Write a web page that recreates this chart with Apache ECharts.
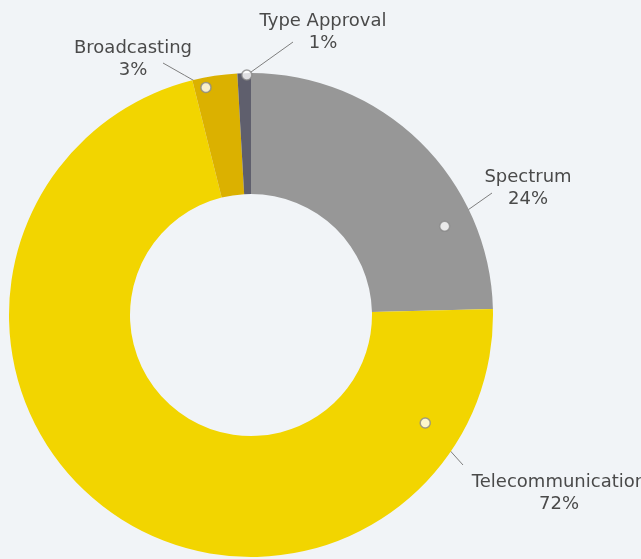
<!DOCTYPE html>
<html>
<head>
<meta charset="utf-8">
<script src="https://cdn.jsdelivr.net/npm/echarts@6/dist/echarts.min.js"></script>
<style>
html,body{margin:0;padding:0;background:#f1f4f7;}
#c{width:641px;height:559px;}
</style>
</head>
<body>
<div id="c"></div>
<script>
// ---- data ----
var categories = ['Spectrum', 'Telecommunication', 'Broadcasting', 'Type Approval'];
var values = [24.6, 71.5, 3.0, 0.9];
var shownPercent = ['24%', '72%', '3%', '1%'];
var colors = ['#979797', '#f2d500', '#dbb100', '#5f5f6d'];

// ---- layout (styling only) ----
var CX = 251, CY = 315, R_IN = 121, R_OUT = 242;
// marker dot placement: [radius px, clockwise angle deg from top]
var dotPlace = [[213, 65.4], [205, 121.8], [232, 348.8], [240, 359.0]];
// label text centre and leader-line end
var labelCenter = [[528, 188], [559, 493], [133, 59], [323, 32]];
var lineEnd = [[492, 193], [463, 465], [163, 63], [293, 42]];

function polarPx(r, a) {
  var rad = a * Math.PI / 180;
  return [CX + r * Math.sin(rad), CY - r * Math.cos(rad)];
}

var chart = echarts.init(document.getElementById('c'), null, {renderer: 'canvas'});
var option = {
  backgroundColor: '#f1f4f7',
  animation: false,
  polar: {center: [CX, CY], radius: R_OUT},
  angleAxis: {type: 'value', min: 0, max: 360, startAngle: 90, clockwise: true,
    show: false, axisLine: {show: false}, axisLabel: {show: false}, splitLine: {show: false}, axisTick: {show: false}},
  radiusAxis: {type: 'value', min: 0, max: R_OUT, show: false,
    axisLine: {show: false}, axisLabel: {show: false}, splitLine: {show: false}, axisTick: {show: false}},
  series: [
    {
      type: 'pie',
      center: [CX, CY],
      radius: [R_IN, R_OUT],
      startAngle: 90,
      clockwise: true,
      avoidLabelOverlap: false,
      emphasis: {disabled: true},
      data: categories.map(function (c, i) {
        return {name: c, value: values[i], itemStyle: {color: colors[i]}};
      }),
      label: {
        show: true,
        position: 'outside',
        formatter: function (p) { return p.name + '\n' + shownPercent[p.dataIndex]; },
        color: '#4a4a4a',
        fontFamily: 'DejaVu Sans',
        fontSize: 18,
        lineHeight: 22,
        align: 'center'
      },
      labelLine: {show: true, lineStyle: {color: '#7f7f7f', width: 1}},
      labelLayout: function (p) {
        var i = p.dataIndex;
        var d = polarPx(dotPlace[i][0], dotPlace[i][1]);
        var e = lineEnd[i];
        return {
          x: labelCenter[i][0],
          y: labelCenter[i][1],
          align: 'center',
          verticalAlign: 'middle',
          labelLinePoints: [d, [(d[0] + e[0]) / 2, (d[1] + e[1]) / 2], e]
        };
      }
    },
    {
      type: 'scatter',
      coordinateSystem: 'polar',
      z: 10,
      symbol: 'circle',
      symbolSize: 10,
      silent: true,
      itemStyle: {color: '#ffffff', borderColor: '#8a8a8a', borderWidth: 1.5},
      data: dotPlace.map(function (p) { return [p[0], p[1]]; })
    }
  ]
};
chart.setOption(option);
</script>
</body>
</html>
